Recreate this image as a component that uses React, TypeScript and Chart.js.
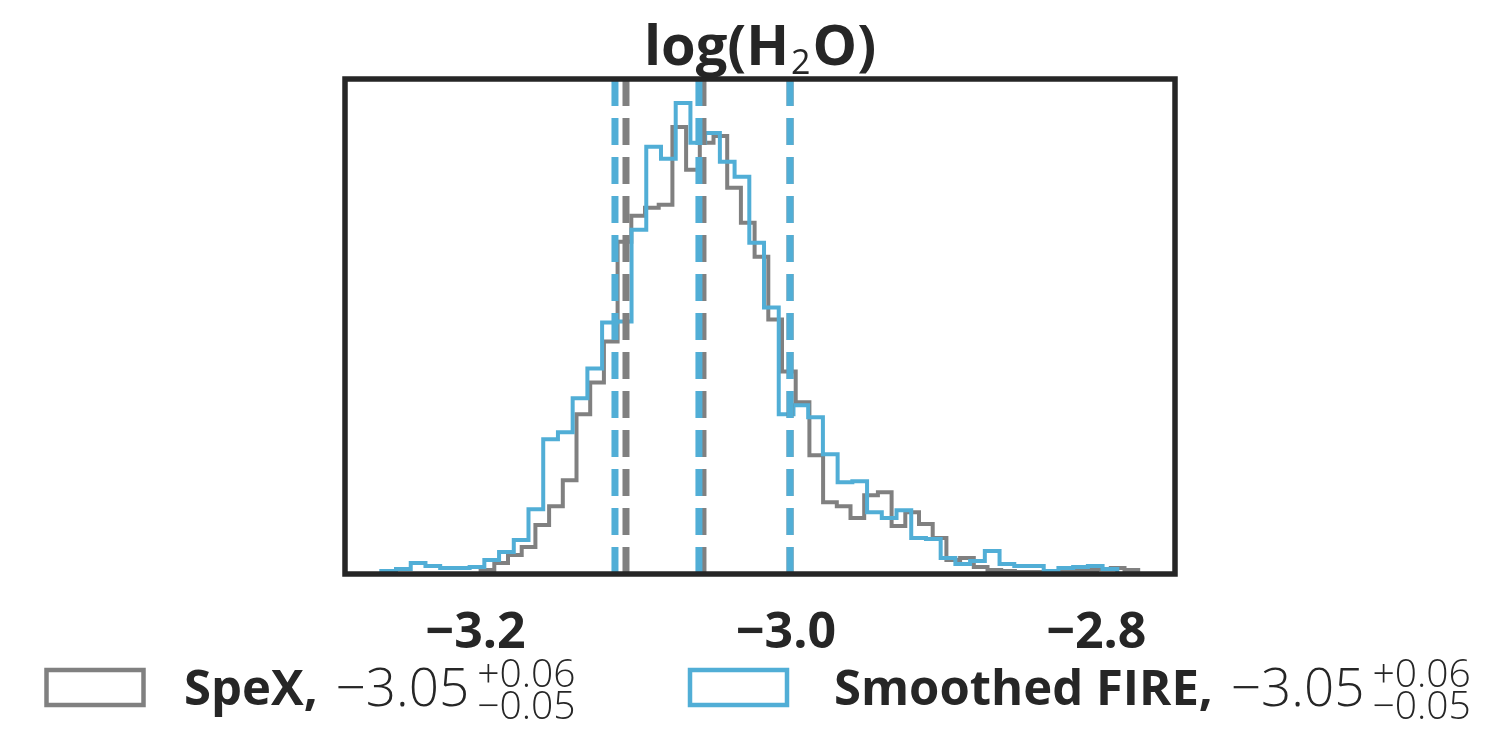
import React, { useEffect, useRef } from "react";
import { Chart, registerables } from "chart.js";

Chart.register(...registerables);

// ---------------- data ----------------
const xTickValues = [-3.2, -3.0, -2.8];
const xTickLabels = ["−3.2", "−3.0", "−2.8"];
const xRange = [-3.28415, -2.74936];
const yRange = [0, 496];

// SpeX histogram (50 bins over its own range)
const speXBinRange = [-3.21443, -2.77307];
const speXCounts = [
  0, 0, 4, 11, 19, 27, 49, 68, 94, 160,
  192, 233, 333, 359, 367, 370, 448, 405, 432, 439,
  387, 352, 318, 255, 203, 172, 119, 72, 68, 56,
  79, 82, 48, 62, 50, 36, 14, 16, 7, 4,
  3, 2, 2, 2, 3, 3, 4, 5, 6, 4,
];

// Smoothed FIRE histogram (50 bins over its own range)
const fireBinRange = [-3.26076, -2.78653];
const fireCounts = [
  3, 5, 11, 8, 6, 6, 7, 14, 22, 34,
  65, 135, 142, 176, 206, 252, 253, 345, 428, 416,
  472, 432, 442, 413, 398, 332, 267, 160, 169, 157,
  120, 92, 93, 62, 56, 64, 36, 35, 16, 10,
  13, 23, 10, 8, 8, 3, 6, 7, 8, 5,
];

// 16th / 50th / 84th percentiles
const speXQuantiles = [-3.1031, -3.0535, -2.9974];
const fireQuantiles = [-3.1102, -3.0561, -2.9974];

const seriesNames = ["SpeX", "Smoothed FIRE"];
const seriesMedian = ["−3.05", "−3.05"];
const seriesUpper = ["+0.06", "+0.06"];
const seriesLower = ["−0.05", "−0.05"];
const titleParts = ["log(H", "2", "O)"];

// ---------------- styles ----------------
const GRAY = "#808080";
const BLUE = "#51aed6";
const INK = "#262626";
const FONT = '"Open Sans", "DejaVu Sans", sans-serif';

function stepPoints(range: number[], counts: number[]) {
  const n = counts.length;
  const w = (range[1] - range[0]) / n;
  const pts: { x: number; y: number }[] = [{ x: range[0], y: 0 }];
  counts.forEach((c, i) => pts.push({ x: range[0] + i * w, y: c }));
  pts.push({ x: range[1], y: 0 });
  return pts;
}

function quantileLine(q: number, color: string) {
  return {
    data: [
      { x: q, y: yRange[0] },
      { x: q, y: yRange[1] },
    ],
    borderColor: color,
    borderWidth: 7,
    borderDash: [27, 12],
    borderCapStyle: "butt" as const,
    pointRadius: 0,
    fill: false,
  };
}

const decorPlugin = {
  id: "decor",
  afterDatasetsDraw(chart: any) {
    const { ctx, chartArea } = chart;
    const { left, top, right, bottom } = chartArea;
    ctx.save();
    ctx.strokeStyle = INK;
    ctx.lineWidth = 5.5;
    ctx.strokeRect(left, top, right - left, bottom - top);
    ctx.restore();
  },
  afterDraw(chart: any) {
    const { ctx, chartArea } = chart;
    ctx.save();
    ctx.fillStyle = INK;
    ctx.textBaseline = "alphabetic";
    ctx.textAlign = "left";

    // title
    const big = `bold 56px ${FONT}`;
    const small = `34px ${FONT}`;
    ctx.font = big;
    const w1 = ctx.measureText(titleParts[0]).width;
    const w3 = ctx.measureText(titleParts[2]).width;
    ctx.font = small;
    const w2 = ctx.measureText(titleParts[1]).width;
    const total = w1 + w2 + w3 + 4;
    let x = (chartArea.left + chartArea.right) / 2 - total / 2;
    ctx.font = big;
    ctx.fillText(titleParts[0], x, 65);
    x += w1 + 2;
    ctx.font = small;
    ctx.fillText(titleParts[1], x, 74);
    x += w2 + 2;
    ctx.font = big;
    ctx.fillText(titleParts[2], x, 65);

    // legend
    const items = [
      { color: GRAY, boxX: 46.5, textX: 184 },
      { color: BLUE, boxX: 690, textX: 834 },
    ];
    items.forEach((it, i) => {
      ctx.strokeStyle = it.color;
      ctx.lineWidth = 4.5;
      ctx.strokeRect(it.boxX, 670, 97, 35);
      ctx.fillStyle = INK;
      ctx.font = `bold 49px ${FONT}`;
      const label = seriesNames[i] + ",";
      ctx.fillText(label, it.textX, 705);
      let tx = it.textX + ctx.measureText(label).width + 18;
      ctx.font = `300 53px ${FONT}`;
      ctx.fillText(seriesMedian[i], tx, 706);
      tx += ctx.measureText(seriesMedian[i]).width + 8;
      ctx.font = `300 39px ${FONT}`;
      ctx.fillText(seriesUpper[i], tx, 687);
      ctx.fillText(seriesLower[i], tx, 719);
    });
    ctx.restore();
  },
};

export default function App() {
  const canvasRef = useRef<HTMLCanvasElement | null>(null);

  useEffect(() => {
    const canvas = canvasRef.current;
    if (!canvas) return;
    const chart = new Chart(canvas, {
      type: "line",
      data: {
        datasets: [
          ...fireQuantiles.map((q) => quantileLine(q, BLUE)),
          ...speXQuantiles.map((q) => quantileLine(q, GRAY)),
          {
            label: seriesNames[1],
            data: stepPoints(fireBinRange, fireCounts),
            borderColor: BLUE,
            borderWidth: 4,
            stepped: "before",
            pointRadius: 0,
            fill: false,
          },
          {
            label: seriesNames[0],
            data: stepPoints(speXBinRange, speXCounts),
            borderColor: GRAY,
            borderWidth: 4,
            stepped: "before",
            pointRadius: 0,
            fill: false,
          },
        ] as any,
      },
      options: {
        responsive: false,
        maintainAspectRatio: false,
        animation: false,
        events: [],
        layout: { padding: { left: 345, right: 337, top: 79, bottom: 42 } },
        scales: {
          x: {
            type: "linear",
            min: xRange[0],
            max: xRange[1],
            grid: { display: false, drawTicks: false },
            border: { display: false },
            afterBuildTicks: (axis: any) => {
              axis.ticks = xTickValues.map((v) => ({ value: v }));
            },
            ticks: {
              autoSkip: false,
              maxRotation: 0,
              minRotation: 0,
              padding: 35,
              color: INK,
              font: { family: FONT, size: 50, weight: "bold", lineHeight: 1 },
              callback: (_v: any, idx: number) => xTickLabels[idx],
            },
          },
          y: {
            type: "linear",
            display: false,
            min: yRange[0],
            max: yRange[1],
          },
        },
        plugins: {
          legend: { display: false },
          title: { display: false },
          tooltip: { enabled: false },
        },
      } as any,
      plugins: [decorPlugin],
    });
    return () => chart.destroy();
  }, []);

  return (
    <div style={{ position: "absolute", left: 0, top: 0, width: 1512, height: 736, background: "#fff" }}>
      <canvas ref={canvasRef} width={1512} height={736} style={{ display: "block" }} />
    </div>
  );
}
